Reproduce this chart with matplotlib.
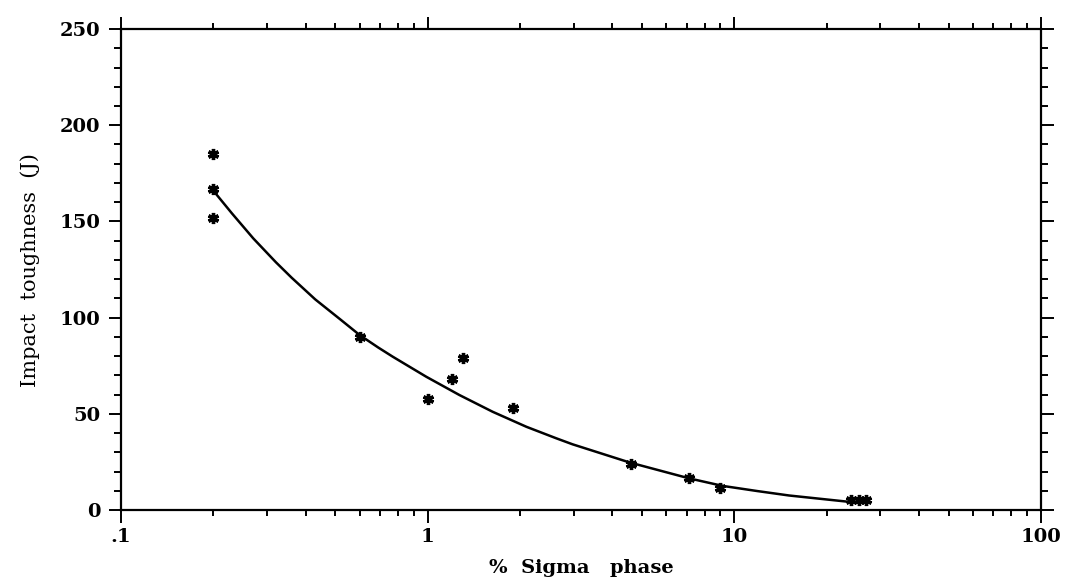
import matplotlib.pyplot as plt
from matplotlib.ticker import FixedLocator, LogLocator, MultipleLocator, NullFormatter

# measured impact toughness vs sigma phase content
sigma_pct = [0.2, 0.2, 0.2, 0.6, 1.0, 1.2, 1.3, 1.9, 4.6, 7.1, 9.0, 24.0, 25.5, 27.0]
toughness = [185, 167, 152, 90, 58, 68, 79, 53, 24, 16.5, 11.5, 5.0, 5.5, 5.5]

# fitted trend line
fit_x = [0.2, 0.23, 0.27, 0.32, 0.36, 0.43, 0.52, 0.6, 0.69, 0.77, 0.99,
         1.27, 1.63, 2.1, 2.63, 2.97, 4.55, 7.13, 9.16, 11.9, 15.1, 23.7]
fit_y = [166, 154.2, 141.2, 128.8, 120.8, 109.5, 99, 91, 84.5, 79.7, 69.3,
         59.8, 51.1, 43.3, 37.3, 34.2, 24.8, 16.5, 12.6, 9.9, 7.6, 4.3]

x_ticks = [0.1, 1, 10, 100]
x_labels = ['.1', '1', '10', '100']
y_ticks = [0, 50, 100, 150, 200, 250]

plt.rcParams['font.family'] = ['DejaVu Serif']

fig = plt.figure(figsize=(10.72, 5.85), dpi=100)
ax = fig.add_axes([0.1129, 0.128, 0.858, 0.8224])

ax.plot(fit_x, fit_y, color='black', lw=1.8, zorder=2)
ax.plot(sigma_pct, toughness, ls='none', marker=(6, 2, 0), ms=8, mew=2.4,
        color='black', zorder=3)

ax.set_xscale('log')
ax.set_xlim(0.1, 100)
ax.set_ylim(0, 250)

ax.xaxis.set_major_locator(FixedLocator(x_ticks))
ax.set_xticks(x_ticks, x_labels)
ax.xaxis.set_minor_locator(LogLocator(base=10, subs=range(2, 10)))
ax.xaxis.set_minor_formatter(NullFormatter())
ax.set_yticks(y_ticks)
ax.yaxis.set_minor_locator(MultipleLocator(10))

for side in ['left', 'right', 'top', 'bottom']:
    ax.spines[side].set_linewidth(1.6)

ax.tick_params(which='both', direction='out', top=True, right=True,
               labeltop=False, labelright=False, width=1.4)
ax.tick_params(which='major', length=9, labelsize=14, pad=6)
ax.tick_params(which='minor', length=5)
ax.tick_params(axis='x', which='major', pad=4)
ax.tick_params(axis='x', which='minor', length=4)
for lbl in ax.get_xticklabels() + ax.get_yticklabels():
    lbl.set_fontweight('bold')

ax.set_xlabel('%  Sigma   phase', fontsize=14, fontweight='bold', labelpad=9)
ax.set_ylabel('Impact  toughness  (J)', fontsize=15, labelpad=14)

fig.savefig('out.png', dpi=100)
